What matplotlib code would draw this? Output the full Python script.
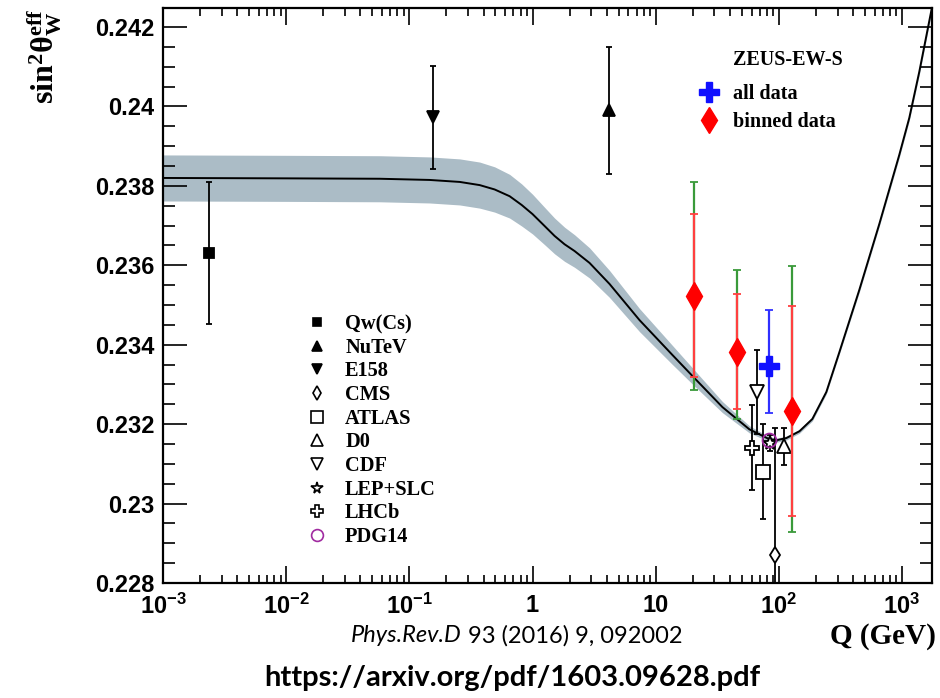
import matplotlib
matplotlib.use("Agg")
import matplotlib.pyplot as plt
from matplotlib.lines import Line2D
from matplotlib.ticker import FixedLocator, FuncFormatter, MultipleLocator
import numpy as np

plt.rcParams['mathtext.fontset'] = 'custom'
plt.rcParams['mathtext.rm'] = 'Liberation Serif:bold'
plt.rcParams['mathtext.it'] = 'Liberation Serif:italic:bold'
plt.rcParams['mathtext.bf'] = 'Liberation Sans:bold'

# SM running of sin^2 theta_W^eff and its uncertainty band
q_curve = [0.001, 0.01, 0.0575, 0.146, 0.2565, 0.3727, 0.4928, 0.652, 0.816, 1.0,
           1.253, 1.51, 1.82, 2.194, 2.904, 4.22, 7.39, 13.69, 20.64, 34.8, 57.6,
           83.7, 97.3, 115, 146.7, 186.9, 242.8, 309.5, 449.6, 653.4, 949.1, 1144,
           1379, 1750]
s_curve = [0.23820, 0.23819, 0.23818, 0.23815, 0.23810, 0.23802, 0.23791, 0.23774,
           0.23752, 0.23729, 0.23699, 0.23674, 0.23653, 0.23636, 0.23606, 0.23553,
           0.23462, 0.23374, 0.23316, 0.23243, 0.23187, 0.23162, 0.23160, 0.23165,
           0.23182, 0.23213, 0.23281, 0.23381, 0.23538, 0.23704, 0.23878, 0.23971,
           0.24087, 0.24250]
s_band = [0.00058, 0.00058, 0.00058, 0.00058, 0.00058, 0.00058, 0.00057, 0.00055,
          0.00053, 0.00050, 0.00047, 0.00045, 0.00043, 0.00041, 0.00038, 0.00034,
          0.00029, 0.00024, 0.00020, 0.00014, 0.00009, 0.00006, 0.00005, 0.00005,
          0.00005, 0.00005, 0.00005, 0.00005, 0.00006, 0.00006, 0.00007, 0.00007,
          0.00008, 0.00008]

# other measurements
exp_names = ["Qw(Cs)", "NuTeV", "E158", "CMS", "ATLAS", "D0", "CDF", "LEP+SLC", "LHCb", "PDG14"]
exp_q = [0.00236, 4.14, 0.155, 93, 74, 111, 66, 84, 61, 83]
exp_val = [0.23631, 0.23991, 0.23973, 0.22870, 0.23080, 0.23144, 0.23281, 0.23153, 0.23140, 0.23160]
exp_err = [0.00180, 0.00160, 0.00130, 0.00320, 0.00120, 0.00046, 0.00107, 0.00020, 0.00107, 0.0]
exp_marker = ['s', '^', 'v', 'd', 's', '^', 'v', '*', 'P', 'o']
exp_size = [7, 8, 8, 8, 9.5, 10, 10, 10, 10, 10]
exp_fill = ['black', 'black', 'black', 'white', 'white', 'white', 'white', 'white', 'white', 'none']
exp_color = ['black'] * 9 + ['#a02aa0']

# ZEUS-EW-S results
zeus_q = [20.6, 45.8, 128]
zeus_val = [0.23522, 0.23382, 0.23233]
zeus_stat_up = [0.00207, 0.00147, 0.00264]
zeus_stat_dn = [0.00204, 0.00144, 0.00265]
zeus_tot_up = [0.00287, 0.00206, 0.00366]
zeus_tot_dn = [0.00236, 0.00168, 0.00304]
zeus_all_q = 83.8
zeus_all_val = 0.23346
zeus_all_up = 0.00141
zeus_all_dn = 0.00117

fig = plt.figure(figsize=(9.4, 6.98), dpi=100)
ax = fig.add_axes([163 / 940, 1 - 583 / 698, (932 - 163) / 940, (583 - 8) / 698])

q = np.array(q_curve)
s = np.array(s_curve)
b = np.array(s_band)
ax.fill_between(q, s - b, s + b, color='#abbcc6', lw=0, zorder=1)
ax.plot(q, s, color='black', lw=1.4, zorder=2)

for i in range(len(exp_names)):
    err = exp_err[i] if exp_err[i] > 0 else None
    ax.errorbar(exp_q[i], exp_val[i], yerr=err, marker=exp_marker[i],
                ms=exp_size[i], mfc=exp_fill[i], mec=exp_color[i], mew=1.3,
                color=exp_color[i], elinewidth=1.3, capsize=2.5, capthick=1.2,
                ls='none', zorder=4)

ax.errorbar(zeus_q, zeus_val, yerr=[zeus_tot_dn, zeus_tot_up], fmt='none',
            ecolor='#3a9a3a', elinewidth=1.6, capsize=3, capthick=1.3, zorder=5)
ax.errorbar(zeus_q, zeus_val, yerr=[zeus_stat_dn, zeus_stat_up], fmt='d',
            ms=14, color='red', mec='red', ecolor='#ff4040', elinewidth=1.6,
            capsize=3, capthick=1.3, zorder=6)
ax.errorbar([zeus_all_q], [zeus_all_val], yerr=[[zeus_all_dn], [zeus_all_up]],
            fmt='P', ms=15, color='#1010ff', mec='#1010ff', ecolor='#3030ff',
            elinewidth=1.6, capsize=3, capthick=1.3, zorder=7)

ax.set_xscale('log')
ax.set_xlim(0.001, 1750)
ax.set_ylim(0.228, 0.24248)

ax.yaxis.set_major_locator(MultipleLocator(0.002))
ax.yaxis.set_minor_locator(MultipleLocator(0.0005))
ax.yaxis.set_major_formatter(FuncFormatter(lambda v, p: '%g' % round(v, 4)))

xlabels = {0.001: r'$\mathbf{10^{-3}}$', 0.01: r'$\mathbf{10^{-2}}$',
           0.1: r'$\mathbf{10^{-1}}$', 1: '1', 10: '10',
           100: r'$\mathbf{10^{2}}$', 1000: r'$\mathbf{10^{3}}$'}
ax.xaxis.set_major_locator(FixedLocator(list(xlabels.keys())))
ax.xaxis.set_major_formatter(FuncFormatter(
    lambda v, p: min(xlabels.items(), key=lambda kv: abs(np.log10(kv[0]) - np.log10(v)))[1]))

ax.tick_params(which='both', direction='in', top=True, right=True, width=1.2)
ax.tick_params(axis='y', which='major', length=17, pad=6)
ax.tick_params(axis='y', which='minor', length=8.5)
ax.tick_params(axis='x', which='major', length=12, pad=8)
ax.tick_params(axis='x', which='minor', length=6)
for lab in ax.get_xticklabels() + ax.get_yticklabels():
    lab.set_fontfamily('Liberation Sans')
    lab.set_fontweight('bold')
    lab.set_fontsize(17)
for sp in ax.spines.values():
    sp.set_linewidth(1.6)

fig.text(45 / 940, 1 - 9 / 698, r'$\mathrm{sin}^{2}\mathrm{\theta}^{\mathrm{eff}}_{\mathrm{W}}$',
         rotation=90, ha='center', va='top', fontsize=23)
fig.text(936 / 940, 1 - 636 / 698, 'Q (GeV)', ha='right', va='center',
         fontfamily='Liberation Serif', fontweight='bold', fontsize=21)

# measurement legend
handles = [Line2D([], [], ls='none', marker=exp_marker[i], ms=exp_size[i] * 0.85,
                  mfc=exp_fill[i], mec=exp_color[i], mew=1.2) for i in range(len(exp_names))]
fig.legend(handles, exp_names, loc='upper left',
           bbox_to_anchor=(307 / 940, 1 - 314 / 698), frameon=False,
           prop={'family': 'Liberation Serif', 'weight': 'bold', 'size': 14.7},
           handlelength=1.0, handletextpad=0.87, labelspacing=0.18,
           borderpad=0, borderaxespad=0)

zeus_handles = [Line2D([], [], ls='none', marker='P', ms=15, color='#1010ff'),
                Line2D([], [], ls='none', marker='d', ms=13, color='red')]
fig.legend(zeus_handles, ['all data', 'binned data'], loc='upper left',
           bbox_to_anchor=(699 / 940, 1 - 84 / 698), frameon=False,
           prop={'family': 'Liberation Serif', 'weight': 'bold', 'size': 14.5},
           handlelength=1.0, handletextpad=0.69, labelspacing=0.40,
           borderpad=0, borderaxespad=0)
fig.text(733 / 940, 1 - 60 / 698, 'ZEUS-EW-S', ha='left', va='center',
         fontfamily='Liberation Serif', fontweight='bold', fontsize=14.5)

# reference lines under the plot
fig.text(462 / 940, 1 - 636 / 698, 'Phys.Rev.D', ha='right', va='center',
         fontfamily='Lato', fontstyle='italic', fontsize=17)
fig.text(462 / 940, 1 - 636 / 698, ' 93 (2016) 9, 092002', ha='left', va='center',
         fontfamily='Lato', fontsize=17)
fig.text(512 / 940, 1 - 678 / 698, 'https://arxiv.org/pdf/1603.09628.pdf', ha='center',
         va='center', fontfamily='Lato', fontweight='bold', fontsize=21)

fig.savefig('out.png', dpi=100)
